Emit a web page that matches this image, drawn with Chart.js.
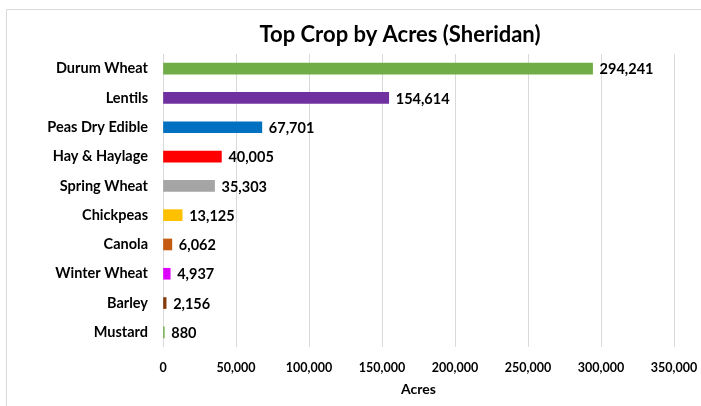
<!DOCTYPE html>
<html>
<head>
<meta charset="utf-8">
<script src="https://cdn.jsdelivr.net/npm/chart.js@4.4.0/dist/chart.umd.min.js"></script>
<style>
html,body{margin:0;padding:0;background:#fff;}
#wrap{width:701px;height:406px;position:relative;}
</style>
</head>
<body>
<div id="wrap"><canvas id="c" width="701" height="406"></canvas></div>
<script>
const categories = ["Durum Wheat","Lentils","Peas Dry Edible","Hay & Haylage","Spring Wheat","Chickpeas","Canola","Winter Wheat","Barley","Mustard"];
const acres = [294241,154614,67701,40005,35303,13125,6062,4937,2156,880];
const barColors = ["#70AD47","#7030A0","#0070C0","#FF0000","#A5A5A5","#FFC000","#C55A11","#DD00FF","#843C0C","#70AD47"];
const xTicks = [0,50000,100000,150000,200000,250000,300000,350000];
const titleText = "Top Crop by Acres (Sheridan)";
const axisTitle = "Acres";

const FONT = "Lato, 'Open Sans', sans-serif";
const fmt = v => v.toLocaleString('en-US');

const framePlugin = {
  id:'frame',
  beforeDraw(chart){
    const ctx = chart.ctx;
    ctx.save();
    ctx.strokeStyle = '#D9D9D9';
    ctx.lineWidth = 1;
    ctx.beginPath();
    ctx.moveTo(6.5, 406);
    ctx.lineTo(6.5, 9.5);
    ctx.lineTo(701, 9.5);
    ctx.stroke();
    ctx.restore();
  }
};

const titlePlugin = {
  id:'customTitle',
  afterDraw(chart){
    const ctx = chart.ctx;
    ctx.save();
    ctx.font = "bold 22px " + FONT;
    ctx.fillStyle = '#000';
    ctx.textAlign = 'center';
    ctx.textBaseline = 'middle';
    ctx.fillText(titleText, 400, 35);
    ctx.restore();
  }
};

const labelPlugin = {
  id:'valueLabels',
  afterDatasetsDraw(chart){
    const ctx = chart.ctx;
    const meta = chart.getDatasetMeta(0);
    ctx.save();
    ctx.font = "bold 14.5px " + FONT;
    ctx.fillStyle = '#000';
    ctx.textAlign = 'left';
    ctx.textBaseline = 'middle';
    meta.data.forEach((bar, i) => {
      ctx.fillText(fmt(acres[i]), bar.x + 7, bar.y + 1);
    });
    ctx.restore();
  }
};

new Chart(document.getElementById('c'), {
  type:'bar',
  data:{
    labels:categories,
    datasets:[{
      data:acres,
      backgroundColor:barColors,
      borderWidth:0,
      barThickness:11
    }]
  },
  options:{
    indexAxis:'y',
    responsive:false,
    animation:false,
    devicePixelRatio:1,
    layout:{padding:{top:54,right:27,bottom:0,left:0}},
    plugins:{legend:{display:false},tooltip:{enabled:false},title:{display:false}},
    scales:{
      x:{
        min:0,max:350000,
        afterBuildTicks(scale){ scale.ticks = xTicks.map(v=>({value:v})); },
        grid:{color:'#D9D9D9',drawTicks:false,lineWidth:1},
        border:{display:false},
        ticks:{
          padding:13,
          color:'#000',
          font:{family:FONT,size:12.5,weight:'bold'},
          callback:v=>fmt(v),
          maxRotation:0
        },
        title:{display:true,text:axisTitle,color:'#000',font:{family:FONT,size:14,weight:'bold'},padding:{top:4,bottom:8}},
        afterFit(scale){ scale.height = 59; scale.paddingLeft = 0; scale.paddingRight = 0; }
      },
      y:{
        grid:{display:false,drawTicks:false},
        border:{display:false},
        ticks:{
          padding:15,
          color:'#000',
          font:{family:FONT,size:14.5,weight:'bold'}
        },
        afterFit(scale){ scale.width = 163; scale.paddingTop = 0; scale.paddingBottom = 0; }
      }
    }
  },
  plugins:[framePlugin,titlePlugin,labelPlugin]
});
</script>
</body>
</html>
